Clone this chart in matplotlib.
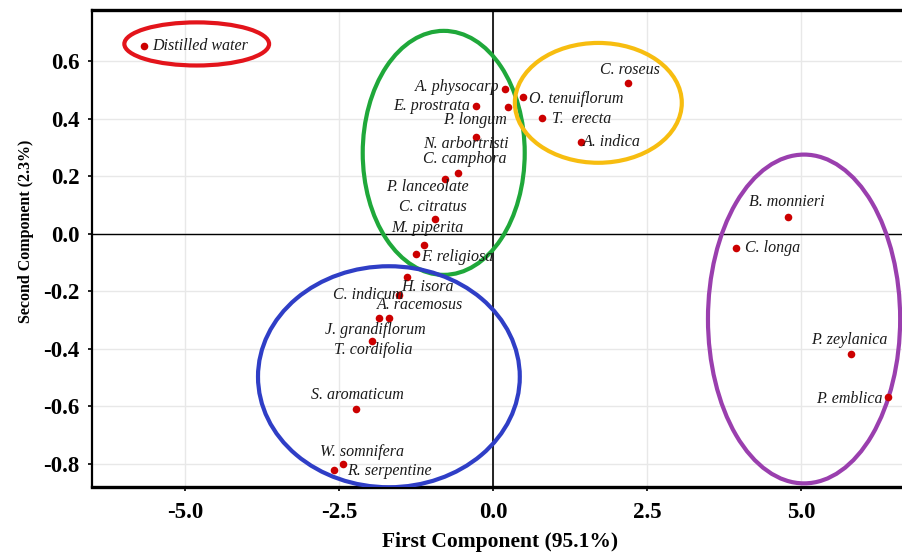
import matplotlib
matplotlib.use("Agg")
import matplotlib.pyplot as plt
from matplotlib.patches import Ellipse
from matplotlib.ticker import FormatStrFormatter

# PCA scores
names = [
    "Distilled water", "A. physocarp", "E. prostrata", "P. longum", "O. tenuiflorum",
    "T.  erecta", "C. roseus", "A. indica", "N. arbortristi", "C. camphora",
    "P. lanceolate", "C. citratus", "M. piperita", "F. religiosa", "H. isora",
    "C. indicum", "A. racemosus", "J. grandiflorum", "T. cordifolia", "S. aromaticum",
    "W. somnifera", "R. serpentine", "B. monnieri", "C. longa", "P. zeylanica",
    "P. emblica",
]
pc1 = [-5.67, 0.19, -0.28, 0.24, 0.49, 0.80, 2.19, 1.43, -0.28, -0.57,
       -0.78, -0.94, -1.12, -1.25, -1.40, -1.53, -1.69, -1.85, -1.96, -2.22,
       -2.44, -2.58, 4.79, 3.94, 5.81, 6.41]
pc2 = [0.654, 0.504, 0.445, 0.442, 0.477, 0.404, 0.525, 0.320, 0.337, 0.212,
       0.191, 0.052, -0.038, -0.070, -0.150, -0.212, -0.292, -0.292, -0.372, -0.609,
       -0.800, -0.821, 0.059, -0.049, -0.417, -0.567]

# cluster ellipses: centre x, centre y, width, height (data units)
ell_cx = [-4.81, -0.80, 1.71, -1.69, 5.05]
ell_cy = [0.661, 0.282, 0.456, -0.497, -0.296]
ell_w = [2.35, 2.63, 2.71, 4.25, 3.12]
ell_h = [0.150, 0.849, 0.417, 0.769, 1.144]
ell_colors = ["#e3141b", "#1fa83a", "#f7bd10", "#2f3ec6", "#9a3fae"]

# label placement (pixels: dx right, dy down) and alignment
lab_off = [
    (8, 0, "left"), (-5, -2, "right"), (-6, 0, "right"), (-1, 13, "right"), (6, 2, "left"),
    (10, 1, "left"), (2, -13, "center"), (2, 0, "left"), (-10, 7, "center"), (7, -14, "center"),
    (-18, 8, "center"), (-2, -12, "center"), (3, -17, "center"), (5, 3, "left"), (-6, 10, "left"),
    (4, 0, "right"), (-12, -13, "left"), (-4, 12, "center"), (1, 9, "center"), (1, -14, "center"),
    (19, -12, "center"), (13, 1, "left"), (-1, -15, "center"), (9, 0, "left"), (-2, -14, "center"),
    (-5, 2, "right"),
]

plt.rcParams["font.family"] = ["Liberation Serif", "DejaVu Serif"]

fig = plt.figure(figsize=(9.02, 5.57), dpi=100)
ax = fig.add_axes([0.102, 0.126, 0.898, 0.856])

ax.set_xlim(-6.51, 6.64)
ax.set_ylim(-0.88, 0.779)
ax.set_xticks([-5.0, -2.5, 0.0, 2.5, 5.0])
ax.set_yticks([-0.8, -0.6, -0.4, -0.2, 0.0, 0.2, 0.4, 0.6])
ax.xaxis.set_major_formatter(FormatStrFormatter("%.1f"))
ax.yaxis.set_major_formatter(FormatStrFormatter("%.1f"))
ax.set_axisbelow(True)
ax.grid(True, color="#e8e8e8", linewidth=1.0)
ax.axhline(0, color="black", linewidth=1.0, zorder=2)
ax.axvline(0, color="black", linewidth=1.2, zorder=2)

for cx, cy, w, h, c in zip(ell_cx, ell_cy, ell_w, ell_h, ell_colors):
    ax.add_patch(Ellipse((cx, cy), w, h, fill=False, edgecolor=c, linewidth=3.0, zorder=3))

ax.scatter(pc1, pc2, s=30, color="#cc0000", zorder=4, linewidths=0)

for n, x, y, (dx, dy, ha) in zip(names, pc1, pc2, lab_off):
    ax.annotate(n, (x, y), xytext=(dx, -dy), textcoords="offset pixels",
                ha=ha, va="center", fontsize=11.5, fontstyle="italic",
                color="#1a1a1a", zorder=5)

for side, lw in [("top", 2.4), ("left", 1.6), ("bottom", 2.4)]:
    ax.spines[side].set_linewidth(lw)
ax.spines["right"].set_visible(False)
ax.tick_params(axis="both", labelsize=16.5, width=1.2, length=3, direction="out")
ax.tick_params(axis="x", pad=8)
ax.tick_params(axis="y", pad=6)
for lbl in ax.get_xticklabels() + ax.get_yticklabels():
    lbl.set_fontweight("bold")

ax.set_xlabel("First Component (95.1%)", fontsize=15.5, fontweight="bold")
ax.set_ylabel("Second Component (2.3%)", fontsize=11.5, fontweight="bold")
ax.xaxis.set_label_coords(0.504, -0.095)
ax.yaxis.set_label_coords(-0.072, 0.535)

fig.savefig("out.png", dpi=100)
